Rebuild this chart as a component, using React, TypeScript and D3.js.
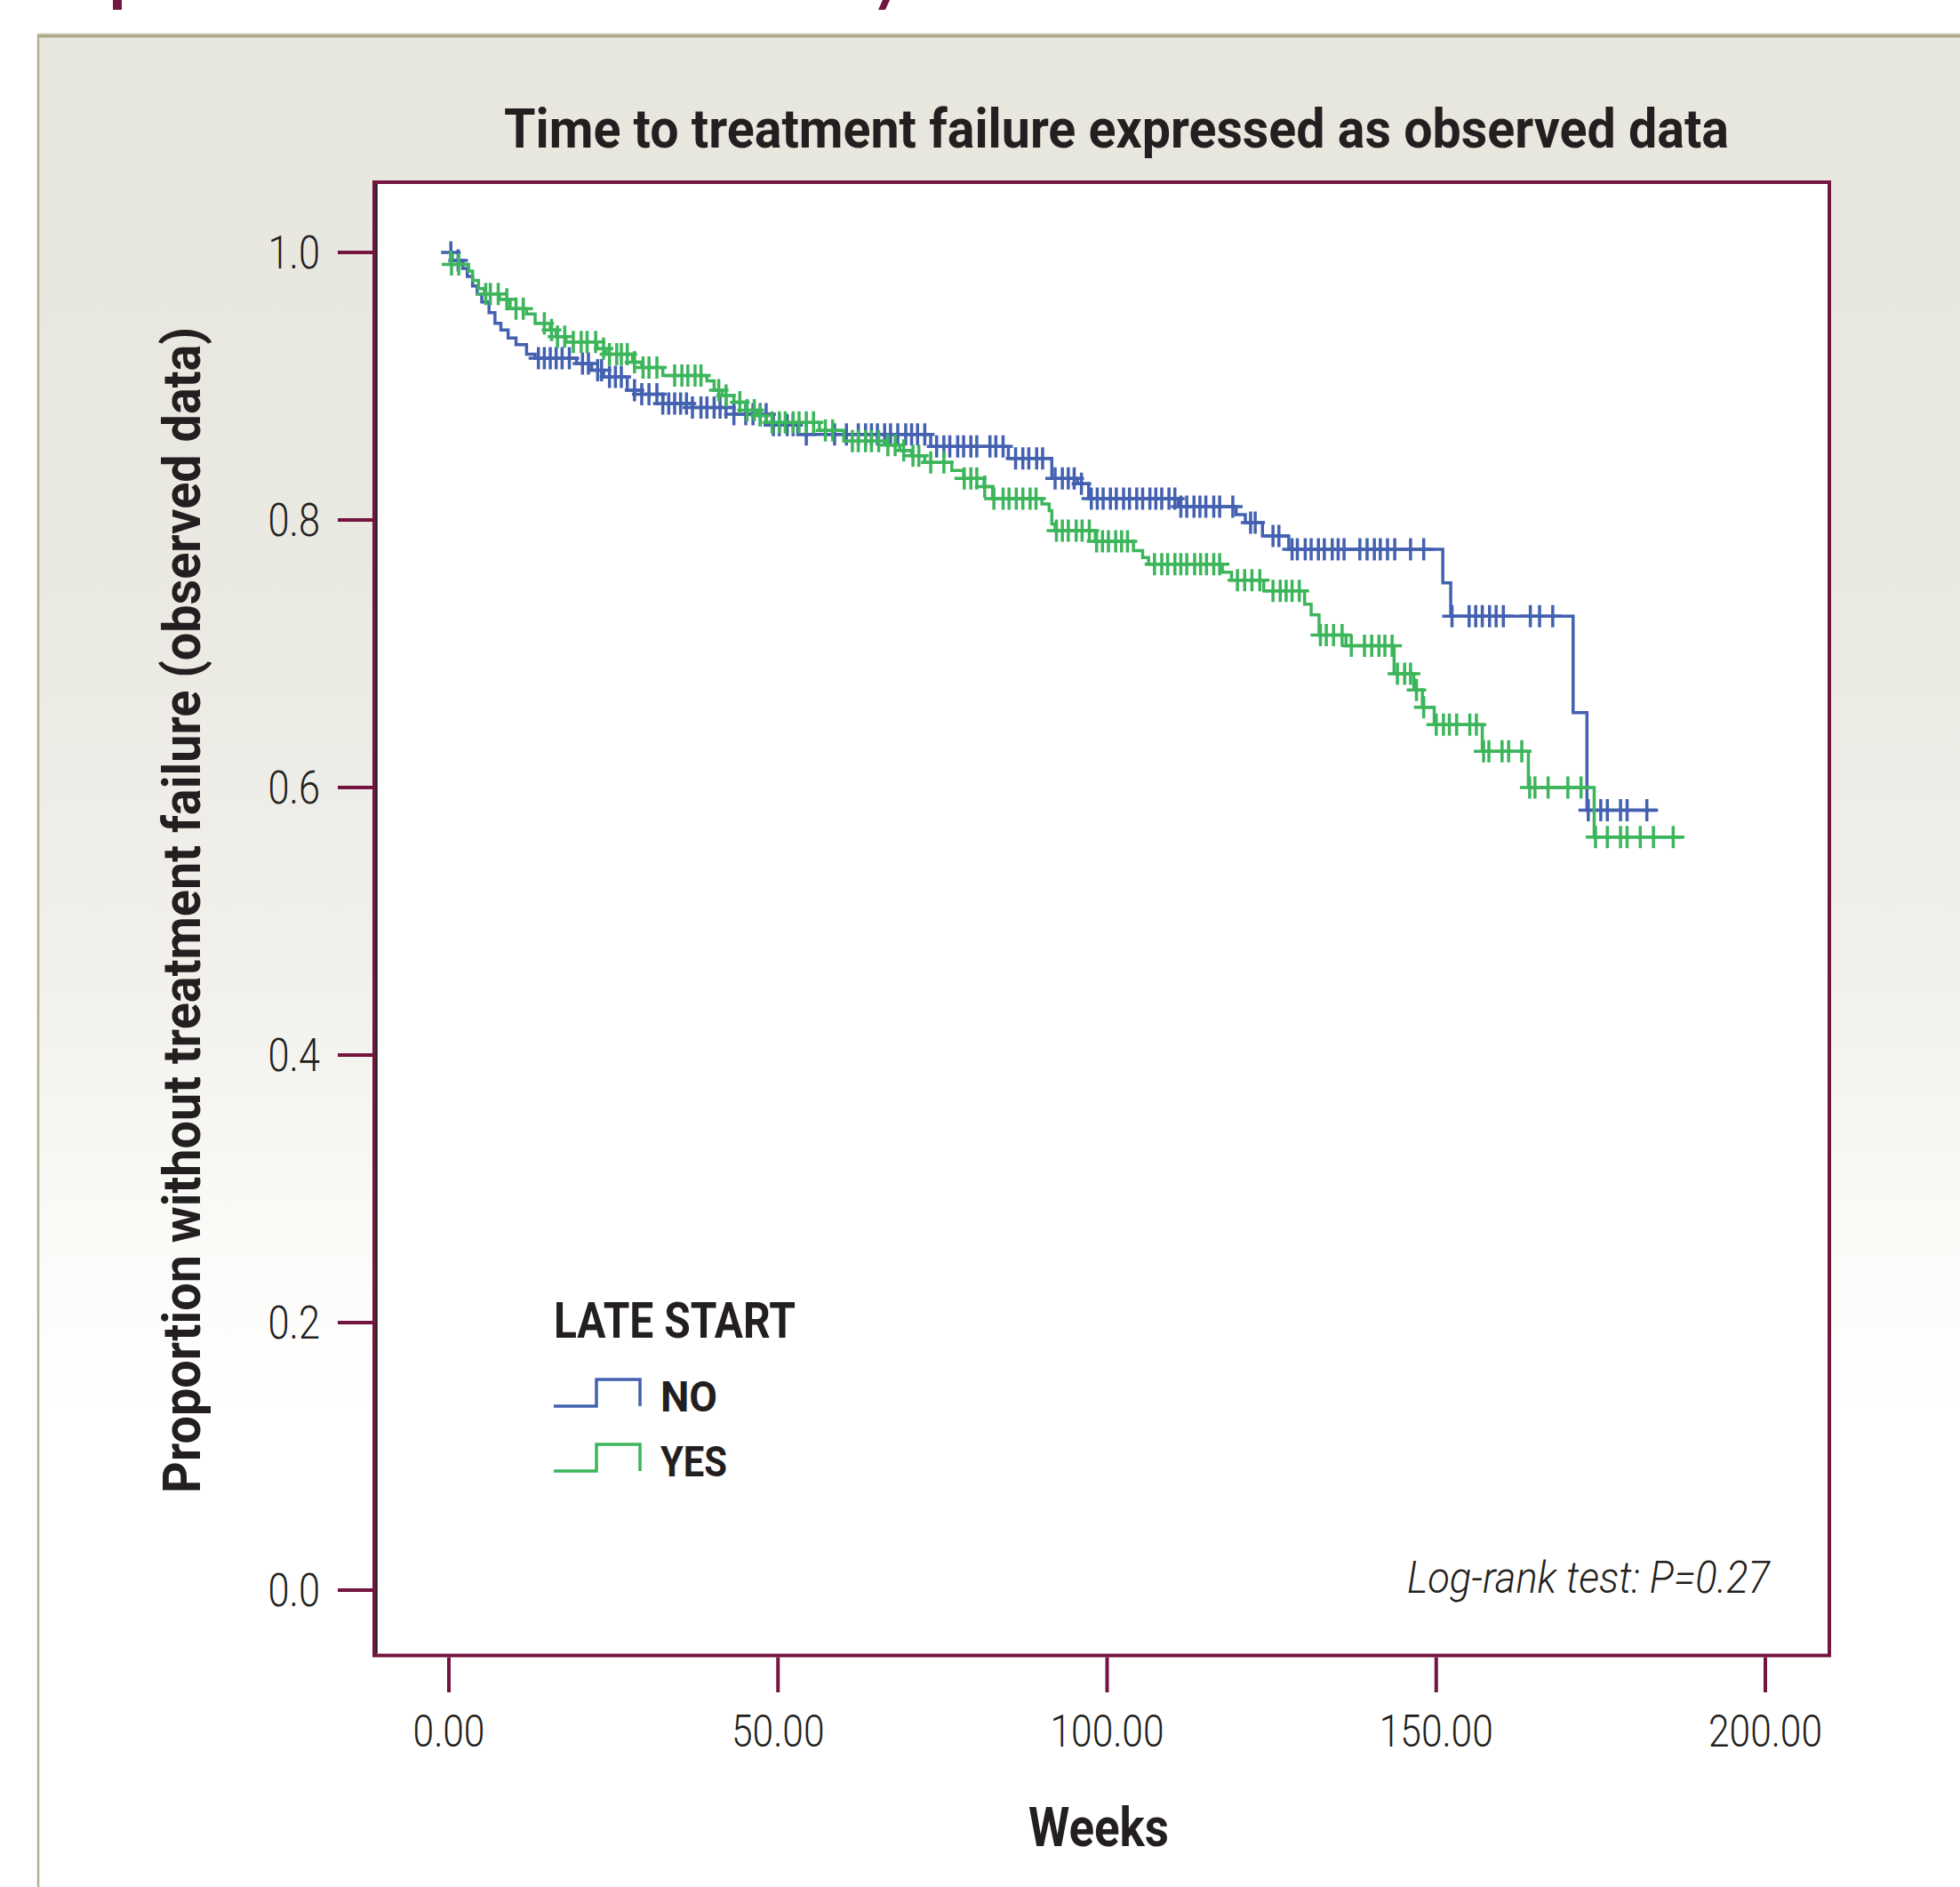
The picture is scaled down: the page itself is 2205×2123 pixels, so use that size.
import React from "react";
import * as d3 from "d3";

const W = 2205;
const H = 2123;

const titleText = "Time to treatment failure expressed as observed data";
const yLabelText = "Proportion without treatment failure (observed data)";
const xLabelText = "Weeks";
const legendTitle = "LATE START";
const seriesNames = ["NO", "YES"];
const noteText = "Log-rank test: P=0.27";

const xTicks = [0, 50, 100, 150, 200];
const yTicks = [0, 0.2, 0.4, 0.6, 0.8, 1.0];

// Group NO (blue)
const noStart = 1.0;
const noStepTimes = [0.5, 2.1, 2.8, 3.6, 4.3, 5.0, 6.1, 7.0, 7.9, 9.0, 10.2, 11.8, 13.1, 19.4, 21.7, 23.5, 27.1, 29.3, 32.5, 37.0, 43.3, 49.1, 53.0, 73.2, 85.0, 91.6, 95.5, 97.2, 110.8, 119.6, 121.0, 123.6, 127.6, 151.0, 152.2, 170.8, 172.9];
const noStepValues = [0.994, 0.988, 0.982, 0.975, 0.969, 0.963, 0.955, 0.947, 0.942, 0.936, 0.931, 0.924, 0.921, 0.917, 0.912, 0.907, 0.897, 0.894, 0.887, 0.884, 0.879, 0.871, 0.864, 0.855, 0.846, 0.831, 0.827, 0.816, 0.810, 0.804, 0.798, 0.788, 0.778, 0.753, 0.728, 0.656, 0.583];
const noEndTime = 183.7;
const noCensorTimes = [0.3, 1.4, 13.6, 14.5, 15.4, 16.3, 17.2, 18.3, 20.3, 21.2, 22.6, 23.2, 24.4, 25.3, 26.2, 28.2, 29.3, 30.4, 31.6, 32.5, 33.4, 34.3, 35.2, 36.1, 37.0, 38.3, 39.2, 40.3, 41.2, 42.1, 43.3, 45.1, 46.2, 47.3, 48.2, 49.3, 50.2, 51.4, 52.3, 54.3, 58.6, 60.4, 62.2, 63.3, 64.2, 65.1, 66.2, 67.1, 68.2, 69.4, 70.3, 71.2, 72.3, 74.1, 75.2, 76.1, 77.3, 78.2, 79.3, 80.2, 82.2, 83.1, 84.2, 86.1, 87.2, 88.1, 89.3, 90.2, 92.1, 93.2, 94.1, 95.0, 96.1, 97.6, 98.5, 99.4, 100.5, 101.4, 102.5, 103.4, 104.5, 105.4, 106.5, 107.4, 108.3, 109.4, 110.3, 111.2, 112.1, 113.2, 114.1, 115.0, 116.2, 117.1, 119.1, 121.8, 122.5, 125.2, 126.1, 128.1, 128.9, 130.1, 131.0, 132.1, 133.0, 134.2, 135.1, 136.0, 138.4, 139.5, 140.6, 141.5, 142.6, 143.7, 146.1, 148.1, 152.4, 155.0, 156.0, 157.0, 158.1, 159.1, 160.2, 164.3, 165.7, 167.7, 173.1, 175.0, 176.0, 178.0, 179.0, 182.0];

// Group YES (green)
const yesStart = 1.0;
const yesStepTimes = [0.3, 3.0, 3.6, 4.5, 5.4, 7.7, 9.3, 11.8, 13.1, 15.4, 16.3, 17.8, 22.5, 23.9, 27.9, 29.3, 32.5, 39.2, 40.3, 41.5, 43.3, 45.1, 46.9, 48.2, 56.3, 60.0, 66.5, 68.5, 70.3, 72.3, 76.4, 78.2, 81.3, 82.6, 90.1, 91.2, 91.6, 92.1, 98.2, 104.0, 105.4, 106.3, 117.5, 118.9, 123.8, 130.0, 131.0, 132.2, 136.3, 143.6, 146.6, 147.9, 149.7, 157.0, 164.0, 174.0];
const yesStepValues = [0.991, 0.986, 0.979, 0.973, 0.969, 0.965, 0.958, 0.954, 0.947, 0.942, 0.937, 0.933, 0.928, 0.924, 0.918, 0.914, 0.908, 0.904, 0.897, 0.893, 0.888, 0.882, 0.878, 0.873, 0.867, 0.859, 0.856, 0.852, 0.848, 0.843, 0.837, 0.831, 0.825, 0.816, 0.812, 0.807, 0.797, 0.792, 0.784, 0.777, 0.772, 0.767, 0.761, 0.755, 0.747, 0.737, 0.729, 0.714, 0.706, 0.685, 0.673, 0.660, 0.647, 0.627, 0.600, 0.563];
const yesEndTime = 187.7;
const yesCensorTimes = [0.4, 1.5, 5.6, 6.3, 7.5, 8.8, 10.2, 11.3, 14.5, 15.6, 16.5, 17.6, 18.9, 20.1, 21.0, 22.3, 23.5, 24.4, 25.5, 26.2, 27.1, 28.2, 29.5, 30.4, 31.6, 34.3, 35.4, 36.3, 37.4, 38.3, 41.0, 42.1, 44.2, 45.3, 46.4, 47.3, 49.1, 50.2, 51.1, 52.3, 53.2, 54.3, 55.4, 57.2, 58.3, 61.3, 62.2, 63.3, 64.2, 65.3, 66.7, 67.8, 69.1, 70.5, 71.4, 73.2, 75.2, 78.3, 79.3, 80.2, 81.4, 82.8, 84.2, 85.1, 86.2, 87.2, 88.3, 89.2, 92.3, 93.2, 94.1, 95.3, 96.2, 97.3, 98.4, 99.3, 100.2, 101.3, 102.2, 103.1, 107.2, 108.3, 109.2, 110.3, 111.2, 112.1, 113.3, 114.2, 115.1, 116.2, 117.1, 119.8, 120.9, 122.0, 123.2, 125.2, 126.3, 127.2, 128.1, 129.2, 132.4, 133.3, 134.4, 135.7, 137.1, 139.1, 140.2, 141.3, 142.2, 143.3, 144.1, 145.2, 146.1, 147.0, 148.1, 150.0, 151.1, 152.0, 153.1, 155.1, 156.1, 157.2, 158.0, 160.0, 161.0, 163.0, 164.2, 165.0, 167.0, 170.0, 172.0, 174.2, 176.0, 178.0, 179.0, 181.0, 183.0, 186.0];

const BLUE = "#4361b0";
const GREEN = "#3cb55b";
const MAROON = "#731441";
const INK = "#231f20";

const FRAME = { left: 421, top: 205, right: 2058, bottom: 1862.5 };

const xScale = d3.scaleLinear().domain([0, 200]).range([505, 1986]);
const yScale = d3.scaleLinear().domain([0, 1]).range([1789, 284]);

function survivalPoints(start: number, times: number[], values: number[], end: number): [number, number][] {
  const pts: [number, number][] = [[0, start]];
  times.forEach((t, i) => pts.push([t, values[i]]));
  pts.push([end, values[values.length - 1]]);
  return pts;
}

function survAt(start: number, times: number[], values: number[], t: number): number {
  const i = d3.bisectRight(times, t) - 1;
  return i < 0 ? start : values[i];
}

const stepLine = d3
  .line<[number, number]>()
  .x((d) => xScale(d[0]))
  .y((d) => yScale(d[1]))
  .curve(d3.curveStepAfter);

function censorPath(start: number, times: number[], values: number[], censors: number[]): string {
  const p = d3.path();
  const a = 11;
  const b = 12.5;
  censors.forEach((t) => {
    const x = xScale(t);
    const y = yScale(survAt(start, times, values, t));
    p.moveTo(x - a, y);
    p.lineTo(x + a, y);
    p.moveTo(x, y - b);
    p.lineTo(x, y + b);
  });
  return p.toString();
}

const series = [
  {
    name: seriesNames[0],
    color: BLUE,
    line: stepLine(survivalPoints(noStart, noStepTimes, noStepValues, noEndTime)) || "",
    marks: censorPath(noStart, noStepTimes, noStepValues, noCensorTimes),
  },
  {
    name: seriesNames[1],
    color: GREEN,
    line: stepLine(survivalPoints(yesStart, yesStepTimes, yesStepValues, yesEndTime)) || "",
    marks: censorPath(yesStart, yesStepTimes, yesStepValues, yesCensorTimes),
  },
];

const fmtX = d3.format(".2f");
const fmtY = d3.format(".1f");

const SANS = "'Roboto', 'Liberation Sans', 'DejaVu Sans', sans-serif";
const BOLD = "'Liberation Sans Narrow', 'Roboto', 'Liberation Sans', sans-serif";

export default function App() {
  return (
    <svg
      width={W}
      height={H}
      viewBox={`0 0 ${W} ${H}`}
      style={{ position: "absolute", left: 0, top: 0, display: "block" }}
    >
      <defs>
        <linearGradient id="panelGrad" x1="0" y1="0" x2="0" y2="1">
          <stop offset="0" stopColor="#e8e7de" />
          <stop offset="0.3" stopColor="#eae9e2" />
          <stop offset="0.5" stopColor="#f1f0eb" />
          <stop offset="0.66" stopColor="#fbfbf9" />
          <stop offset="0.74" stopColor="#ffffff" />
          <stop offset="1" stopColor="#ffffff" />
        </linearGradient>
      </defs>
      <rect x={0} y={0} width={W} height={H} fill="#ffffff" />

      {/* clipped heading fragments at very top */}
      <rect x={127} y={0} width={10} height={11} fill={MAROON} />
      <path d="M988,11 L996,11 L1001,0 L993,0 Z" fill={MAROON} />

      {/* panel */}
      <rect x={43} y={40.5} width={W - 43} height={H - 40.5} fill="url(#panelGrad)" />
      <line x1={42} y1={38} x2={W} y2={38} stroke="#d6d3c2" strokeWidth={1.5} />
      <line x1={42} y1={40.5} x2={W} y2={40.5} stroke="#aca688" strokeWidth={3.5} />
      <line x1={43} y1={39} x2={43} y2={H} stroke="#b3ae8f" strokeWidth={2.5} />

      {/* title */}
      <text
        x={567}
        y={166}
        fontFamily={BOLD}
        fontWeight={700}
        fontSize={62}
        fill={INK}
        textLength={1378}
        lengthAdjust="spacingAndGlyphs"
      >
        {titleText}
      </text>

      {/* plot area */}
      <rect
        x={FRAME.left}
        y={FRAME.top}
        width={FRAME.right - FRAME.left}
        height={FRAME.bottom - FRAME.top}
        fill="#ffffff"
        stroke={MAROON}
        strokeWidth={4}
      />
      <line x1={FRAME.left + 2.8} y1={FRAME.top + 2} x2={FRAME.left + 2.8} y2={FRAME.bottom - 2} stroke="#1b1b1b" strokeWidth={1.8} />

      {/* y axis ticks */}
      {yTicks.map((v) => (
        <g key={`y${v}`}>
          <line x1={380} x2={FRAME.left - 2} y1={yScale(v)} y2={yScale(v)} stroke={MAROON} strokeWidth={4} />
          <text
            transform={`translate(360,${yScale(v) + 18}) scale(0.85,1)`}
            textAnchor="end"
            fontFamily={SANS}
            fontWeight={300}
            fontSize={51}
            fill={INK}
          >
            {fmtY(v)}
          </text>
        </g>
      ))}

      {/* x axis ticks */}
      {xTicks.map((v) => (
        <g key={`x${v}`}>
          <line x1={xScale(v)} x2={xScale(v)} y1={FRAME.bottom + 2} y2={1904} stroke={MAROON} strokeWidth={4} />
          <text
            transform={`translate(${xScale(v)},1965) scale(0.85,1)`}
            textAnchor="middle"
            fontFamily={SANS}
            fontWeight={300}
            fontSize={50}
            fill={INK}
          >
            {fmtX(v)}
          </text>
        </g>
      ))}

      {/* survival curves */}
      {series.map((s) => (
        <g key={s.name}>
          <path d={s.line} fill="none" stroke={s.color} strokeWidth={3.5} strokeLinejoin="miter" />
          <path d={s.marks} fill="none" stroke={s.color} strokeWidth={3.5} />
        </g>
      ))}

      {/* axis titles */}
      <text
        transform="translate(225,1024) rotate(-90)"
        textAnchor="middle"
        fontFamily={BOLD}
        fontWeight={700}
        fontSize={60}
        fill={INK}
        textLength={1312}
        lengthAdjust="spacingAndGlyphs"
      >
        {yLabelText}
      </text>
      <text
        x={1236}
        y={2077}
        textAnchor="middle"
        fontFamily={BOLD}
        fontWeight={700}
        fontSize={61}
        fill={INK}
        textLength={158}
        lengthAdjust="spacingAndGlyphs"
      >
        {xLabelText}
      </text>

      {/* legend */}
      <text
        x={623}
        y={1505}
        fontFamily={BOLD}
        fontWeight={700}
        fontSize={55}
        fill={INK}
        textLength={272}
        lengthAdjust="spacingAndGlyphs"
      >
        {legendTitle}
      </text>
      {series.map((s, i) => {
        const base = i === 0 ? 1582 : 1655;
        const d = d3.path();
        d.moveTo(623, base);
        d.lineTo(671, base);
        d.lineTo(671, base - 30);
        d.lineTo(720, base - 30);
        d.lineTo(720, base);
        return (
          <g key={`lg${s.name}`}>
            <path d={d.toString()} fill="none" stroke={s.color} strokeWidth={3.5} />
            <text
              x={743}
              y={base + 6}
              fontFamily={BOLD}
              fontWeight={700}
              fontSize={49}
              fill={INK}
              textLength={s.name.length === 2 ? 64 : 75}
              lengthAdjust="spacingAndGlyphs"
            >
              {s.name}
            </text>
          </g>
        );
      })}

      {/* note */}
      <text
        x={1991}
        y={1792}
        textAnchor="end"
        fontFamily={SANS}
        fontStyle="italic"
        fontWeight={300}
        fontSize={49}
        fill={INK}
        textLength={408}
        lengthAdjust="spacingAndGlyphs"
      >
        {noteText}
      </text>
    </svg>
  );
}
